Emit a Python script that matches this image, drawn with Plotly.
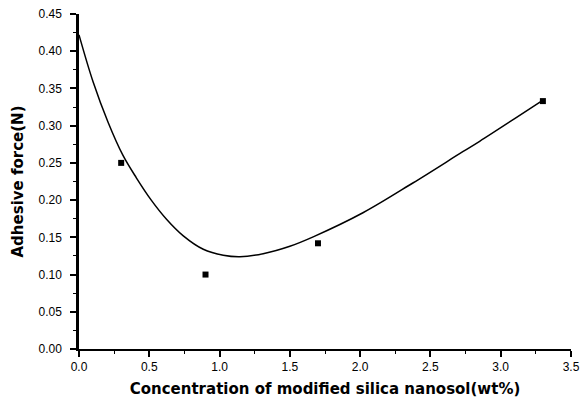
import plotly.graph_objects as go

# measured data points
conc = [0.3, 0.9, 1.7, 3.3]
force = [0.250, 0.100, 0.142, 0.333]

# fitted curve
fit_x = [0.0, 0.10, 0.206, 0.313, 0.408, 0.514, 0.624, 0.742, 0.884, 1.026, 1.145, 1.31, 1.50, 1.67, 2.02, 2.375, 2.73, 2.85, 3.29]
fit_y = [0.422, 0.359, 0.305, 0.260, 0.230, 0.200, 0.174, 0.152, 0.134, 0.126, 0.124, 0.128, 0.138, 0.151, 0.183, 0.223, 0.265, 0.279, 0.333]

x_ticks = [0.0, 0.5, 1.0, 1.5, 2.0, 2.5, 3.0, 3.5]
x_labels = ["0.0", "0.5", "1.0", "1.5", "2.0", "2.5", "3.0", "3.5"]
y_ticks = [0.0, 0.05, 0.10, 0.15, 0.20, 0.25, 0.30, 0.35, 0.40, 0.45]
y_labels = ["0.00", "0.05", "0.10", "0.15", "0.20", "0.25", "0.30", "0.35", "0.40", "0.45"]

fig = go.Figure()
fig.add_trace(go.Scatter(x=fit_x, y=fit_y, mode="lines",
                         line=dict(color="black", width=1.5, shape="spline", smoothing=1.0),
                         showlegend=False, hoverinfo="skip"))
fig.add_trace(go.Scatter(x=conc, y=force, mode="markers",
                         marker=dict(symbol="square", size=6, color="black"),
                         showlegend=False))

tick_font = dict(family="Liberation Sans, Arial, sans-serif", size=12, color="black")
title_font = dict(family="DejaVu Sans, sans-serif", size=15, color="black")
fig.update_layout(
    width=581, height=401,
    margin=dict(l=79, r=10, t=14, b=52, autoexpand=False),
    paper_bgcolor="white", plot_bgcolor="white",
    xaxis=dict(range=[0, 3.5], tickvals=x_ticks, ticktext=x_labels,
               showline=True, linecolor="black", linewidth=2,
               ticks="outside", ticklen=6, tickwidth=2, tickcolor="black",
               ticklabelstandoff=0, automargin=False,
               minor=dict(ticks="outside", ticklen=3, dtick=0.25, tickcolor="black", tickwidth=1),
               showgrid=False, zeroline=False, tickfont=tick_font,
               title=dict(text="<b>Concentration of modified silica nanosol(wt%)</b>",
                          font=title_font, standoff=10)),
    yaxis=dict(range=[0, 0.45], tickvals=y_ticks, ticktext=y_labels,
               showline=True, linecolor="black", linewidth=2.5,
               ticks="outside", ticklen=6, tickwidth=2, tickcolor="black",
               ticklabelstandoff=6, automargin=False,
               minor=dict(ticks="outside", ticklen=3, dtick=0.025, tickcolor="black", tickwidth=1),
               showgrid=False, zeroline=False, tickfont=tick_font,
               title=dict(text="<b>Adhesive force(N)</b>",
                          font=title_font, standoff=12)),
)

fig.write_html("out.html")
